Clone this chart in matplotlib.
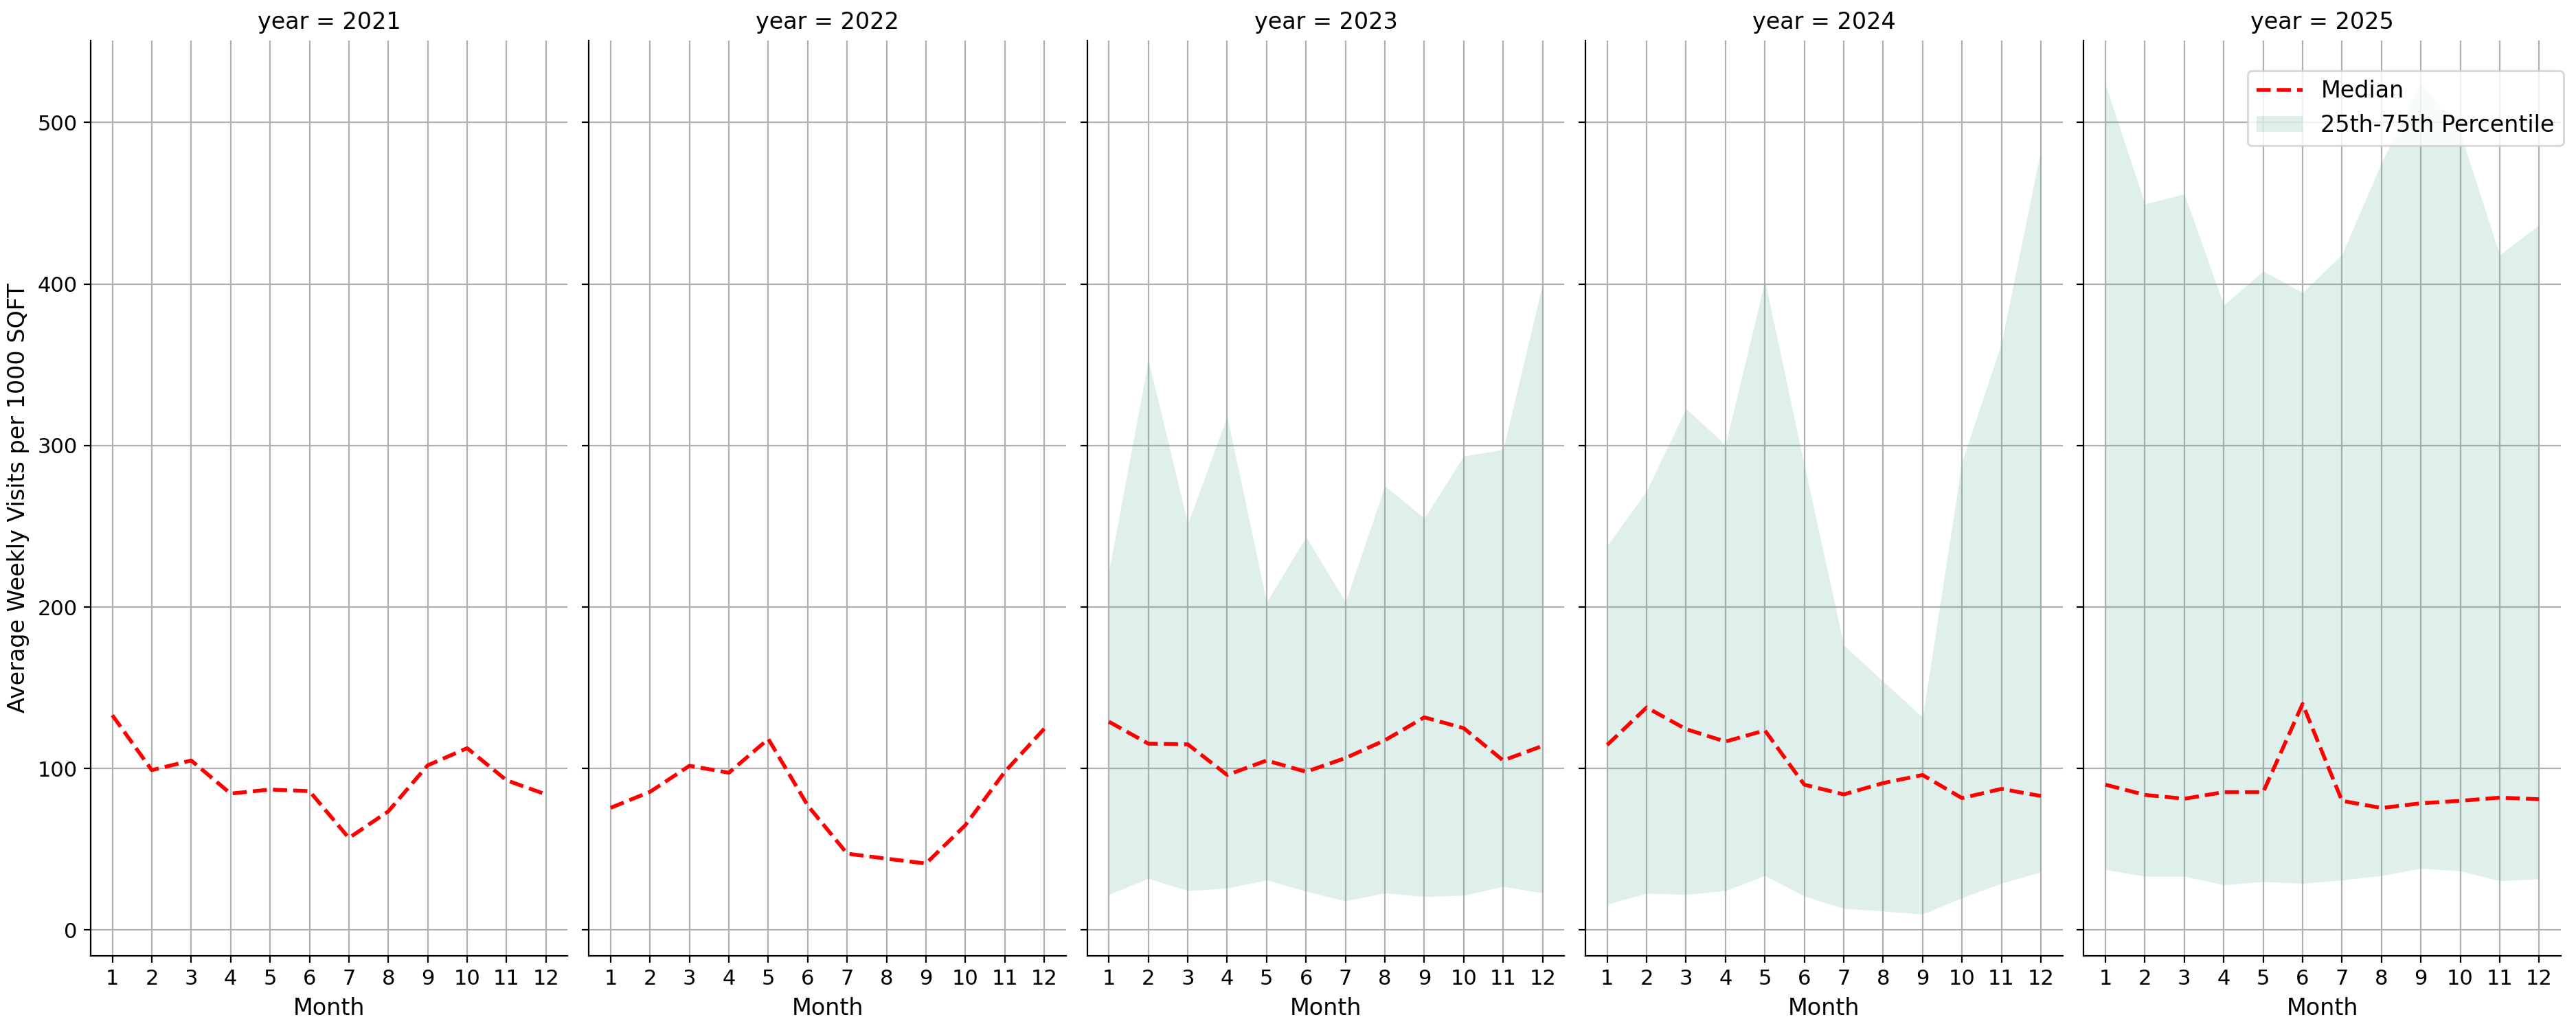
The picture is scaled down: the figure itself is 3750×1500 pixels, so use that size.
import numpy as np
import matplotlib
matplotlib.use('Agg')
import matplotlib.pyplot as plt
from matplotlib.patches import Patch
from matplotlib.lines import Line2D

# monthly summary per year (visits per 1000 sqft)
months = list(range(1, 13))
years = [2021, 2022, 2023, 2024, 2025]

median_2021 = [133, 99, 105, 84.5, 87, 86, 57, 73.5, 102, 112.6, 92.7, 84]
median_2022 = [75.7, 85.6, 101.7, 97.4, 118.3, 77.1, 47.3, 44.2, 41.2, 65, 98, 124.7]
median_2023 = [129, 115.4, 115, 96, 105, 98, 106.5, 117.5, 131.7, 125, 105, 114]
median_2024 = [114.6, 137.8, 124.4, 116.7, 123.6, 90, 84, 91, 96, 81.7, 87.4, 83]
median_2025 = [90, 83.7, 81.3, 85.4, 85.4, 140, 80, 75.6, 78.5, 80, 82, 81]

p25_2023 = [22, 32, 24.4, 26, 31, 24, 18, 23, 20.7, 21.5, 27, 23]
p75_2023 = [222, 353, 251.6, 318, 203, 243.5, 203, 275, 255, 293.5, 297.5, 400]
p25_2024 = [16, 22.8, 22, 24.4, 33.7, 21, 13.4, 11.8, 9.8, 20, 29, 36]
p75_2024 = [238, 272, 322.8, 300.4, 402, 288, 176.4, 154, 131.7, 290, 363.4, 483]
p25_2025 = [37.4, 33.3, 33.3, 28, 30, 28.9, 31, 33.7, 38.2, 36.6, 30.5, 31.7]
p75_2025 = [523.5, 449.6, 455.7, 387, 408, 394.7, 418.3, 475, 525, 493.5, 418, 436.6]

medians = [median_2021, median_2022, median_2023, median_2024, median_2025]
lows = [None, None, p25_2023, p25_2024, p25_2025]
highs = [None, None, p75_2023, p75_2024, p75_2025]

band_color = '#5fb4a0'

fig, axes = plt.subplots(1, 5, figsize=(18.75, 7.5), sharey=True)
fig.subplots_adjust(left=0.0352, right=0.9941, top=0.9607, bottom=0.072, wspace=0.0446)

for ax, yr, med, lo, hi in zip(axes, years, medians, lows, highs):
	ax.set_axisbelow(True)
	ax.grid(True, color='#b0b0b0', linewidth=0.8)
	if lo is not None:
		ax.fill_between(months, lo, hi, color=band_color, alpha=0.2, linewidth=0)
	ax.plot(months, med, color='red', linestyle='--', linewidth=2)
	ax.set_title('year = {}'.format(yr), fontsize=12)
	ax.set_xlabel('Month', fontsize=12)
	ax.set_xticks(months)
	ax.tick_params(labelsize=11)
	ax.spines['top'].set_visible(False)
	ax.spines['right'].set_visible(False)

axes[0].set_ylabel('Average Weekly Visits per 1000 SQFT', fontsize=12)
axes[0].set_yticks([0, 100, 200, 300, 400, 500])

handles = [Line2D([0], [0], color='red', linestyle='--', linewidth=2),
	Patch(facecolor=band_color, alpha=0.2, linewidth=0)]
fig.legend(handles, ['Median', '25th-75th Percentile'], loc='upper right',
	bbox_to_anchor=(0.9952, 0.9313), borderaxespad=0, fontsize=12)

fig.savefig('out.png', dpi=200)
